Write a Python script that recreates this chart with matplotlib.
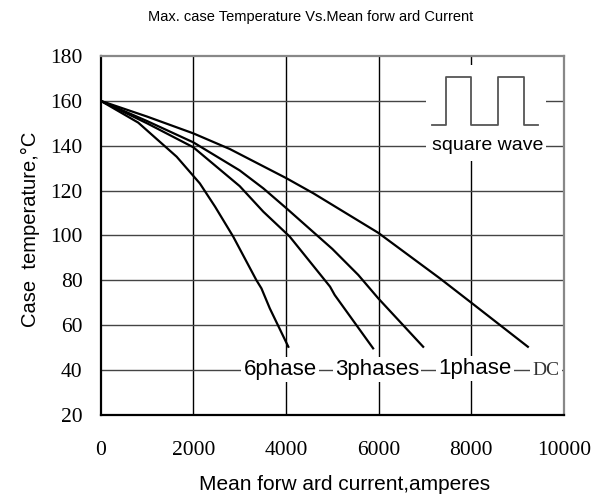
import matplotlib
matplotlib.use("Agg")
import matplotlib.pyplot as plt
from matplotlib.patches import Rectangle

# curves (current in A, case temperature in degC)
dc_x = [0, 1000, 2000, 2790, 4010, 4590, 5990, 7320, 8020, 9220]
dc_t = [160, 153, 145.5, 138.5, 125.5, 118.8, 101.2, 80.9, 69.7, 50.4]

ph1_x = [0, 1000, 2000, 3000, 3510, 4010, 5000, 5560, 5990, 6960]
ph1_t = [160, 151, 141.5, 129, 121, 112.1, 94, 82.4, 72, 50.4]

ph3_x = [0, 1000, 2000, 3000, 3510, 4080, 4950, 5050, 5880]
ph3_t = [160, 150, 139.3, 122, 110.6, 99.5, 77.2, 73.5, 49.7]

ph6_x = [0, 810, 1640, 2140, 2470, 2860, 3360, 3470, 3650, 4050]
ph6_t = [160, 150.3, 135.1, 123.2, 112.8, 99.5, 80.1, 76.4, 67.5, 50.4]

labels = ["6phase", "3phases", "1phase", "DC"]
label_x = [3870, 5970, 8080, 9610]
label_t = [40.3, 40.3, 40.7, 39.8]

# square wave sketch
sq_x = [7160, 7450, 7450, 8000, 8000, 8580, 8580, 9130, 9130, 9440]
sq_t = [149.2, 149.2, 170.8, 170.8, 149.2, 149.2, 170.8, 170.8, 149.2, 149.2]

xticks = [0, 2000, 4000, 6000, 8000, 10000]
yticks = [20, 40, 60, 80, 100, 120, 140, 160, 180]

fig = plt.figure(figsize=(6.04, 4.98), dpi=100)
ax = fig.add_axes([0.1667, 0.1667, 0.7671, 0.7209])

ax.set_xlim(0, 10000)
ax.set_ylim(20, 180)
ax.set_xticks(xticks)
ax.set_yticks(yticks)
ax.tick_params(length=0, pad=13)
ax.tick_params(axis="x", pad=19)
for lab in ax.get_xticklabels() + ax.get_yticklabels():
    lab.set_fontfamily("Liberation Serif")
    lab.set_fontsize(15.5)

# grid
for gx in xticks[1:-1]:
    ax.axvline(gx, color="black", lw=1, zorder=1)
for gy in yticks[1:-1]:
    ax.axhline(gy, color="#444444", lw=1, zorder=1)

for s in ["left", "bottom"]:
    ax.spines[s].set_color("black")
    ax.spines[s].set_linewidth(1.6)
for s in ["top", "right"]:
    ax.spines[s].set_color("#888888")
    ax.spines[s].set_linewidth(1.6)

for xs, ts in [(dc_x, dc_t), (ph1_x, ph1_t), (ph3_x, ph3_t), (ph6_x, ph6_t)]:
    ax.plot(xs, ts, color="black", lw=1.6, zorder=3)

# white patch behind the square wave sketch
ax.add_patch(Rectangle((7030, 133), 2590, 43, facecolor="white",
                       edgecolor="none", zorder=2))
ax.plot(sq_x, sq_t, color="#555555", lw=1.3, zorder=3)
ax.text(8350, 140, "square wave", ha="center", va="center", fontsize=14,
        family="Liberation Sans", zorder=4,
        bbox=dict(facecolor="white", edgecolor="none", pad=1))

for i, lab in enumerate(labels):
    fam = "Liberation Serif" if lab == "DC" else "Liberation Sans"
    col = "#333333" if lab == "DC" else "black"
    fs = 14 if lab == "DC" else 16
    ax.text(label_x[i], label_t[i], lab, ha="center", va="center",
            fontsize=fs, family=fam, color=col, zorder=4,
            bbox=dict(facecolor="white", edgecolor="none", pad=1.5))

fig.text(0.515, 0.966, "Max. case Temperature Vs.Mean forw ard Current",
         ha="center", va="center", fontsize=10.5, family="Liberation Sans")
fig.text(0.571, 0.028, "Mean forw ard current,amperes", ha="center",
         va="center", fontsize=15, family="Liberation Sans")
fig.text(0.05, 0.54, "Case  temperature,\u00b0C", ha="center", va="center",
         rotation=90, fontsize=14.5, family="Liberation Sans")

fig.savefig("out.png", dpi=100)
